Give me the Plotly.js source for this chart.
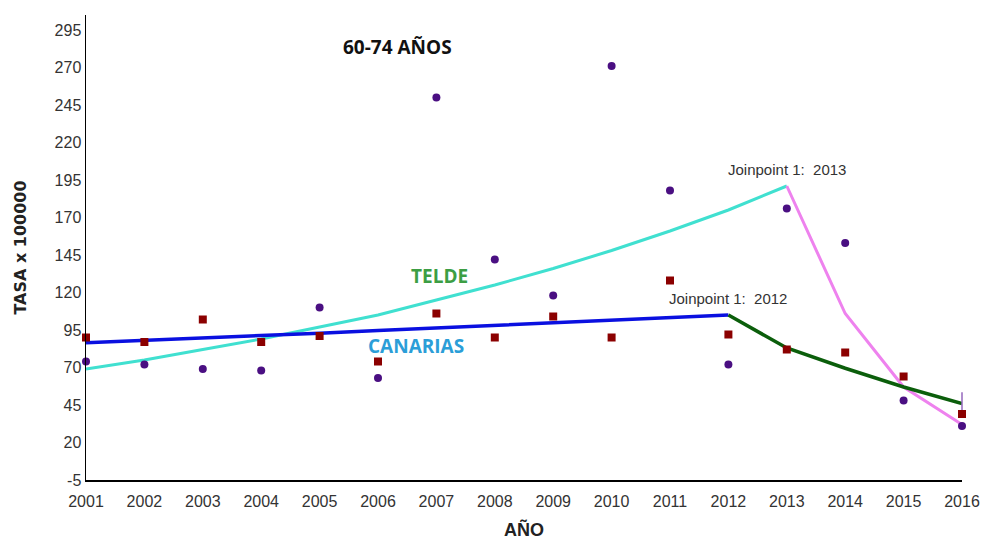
<!DOCTYPE html>
<html>
<head>
<meta charset="utf-8">
<script src="https://cdn.plot.ly/plotly-3.0.1.min.js"></script>
<style>html,body{margin:0;padding:0;background:#fff;}#chart{width:983px;height:541px;}</style>
</head>
<body>
<div id="chart"></div>
<script>
// Data
var years = [2001,2002,2003,2004,2005,2006,2007,2008,2009,2010,2011,2012,2013,2014,2015,2016];
var teldeObserved = [74,72,69,68,110,63,250,142,118,271,188,72,176,153,48,31];
var canariasObserved = [90,87,102,87,91,74,106,90,104,90,128,92,82,80,64,39];

var teldeSeg1Years = [2001,2002,2003,2004,2005,2006,2007,2008,2009,2010,2011,2012,2013];
var teldeSeg1 = [69,75,82,89,97,105,115,125,136,148,161,175,191];
var teldeSeg2Years = [2013,2014,2015,2016];
var teldeSeg2 = [191,106,57,32];

var canariasSeg1Years = [2001,2002,2003,2004,2005,2006,2007,2008,2009,2010,2011,2012];
var canariasSeg1 = [86.5,88,89.7,91.3,92.9,94.6,96.3,98,99.8,101.6,103.4,105];
var canariasSeg2Years = [2012,2013,2014,2015,2016];
var canariasSeg2 = [105,83,69.5,57,46];

var yTicks = [-5,20,45,70,95,120,145,170,195,220,245,270,295];

var traces = [
  {x: teldeSeg1Years, y: teldeSeg1, mode: 'lines', line: {color: '#40E0D0', width: 3}, cliponaxis: false},
  {x: teldeSeg2Years, y: teldeSeg2, mode: 'lines', line: {color: '#EE82EE', width: 3}, cliponaxis: false},
  {x: canariasSeg1Years, y: canariasSeg1, mode: 'lines', line: {color: '#0a10e0', width: 3.5}, cliponaxis: false},
  {x: canariasSeg2Years, y: canariasSeg2, mode: 'lines', line: {color: '#0b5e0b', width: 3.5}, cliponaxis: false},
  {x: [canariasSeg2Years[canariasSeg2Years.length-1]], y: [canariasSeg2[canariasSeg2.length-1]], mode: 'markers',
   marker: {symbol: 'line-ns-open', size: 16, line: {color: '#111', width: 1.5}}, cliponaxis: false},
  {x: years, y: teldeObserved, mode: 'markers', marker: {symbol: 'circle', size: 8, color: '#4a0f82'}, cliponaxis: false},
  {x: years, y: canariasObserved, mode: 'markers', marker: {symbol: 'square', size: 8, color: '#8b0000'}, cliponaxis: false}
];

var layout = {
  width: 983, height: 541,
  margin: {l: 86, r: 21, t: 15, b: 61},
  paper_bgcolor: '#fff', plot_bgcolor: '#fff',
  showlegend: false,
  font: {family: 'Liberation Sans, Arial, sans-serif', color: '#333'},
  xaxis: {
    range: [2001, 2016], tickvals: years, ticktext: years.map(String),
    showgrid: false, zeroline: false, showline: true, linecolor: '#000', linewidth: 1.5,
    ticks: '', tickfont: {size: 16, color: '#333'}, ticklabelstandoff: 6,
    title: {text: '<b>AÑO</b>', font: {size: 18, color: '#222', family: 'Liberation Sans, Arial, sans-serif'}, standoff: 14}
  },
  yaxis: {
    range: [-5, 305], tickvals: yTicks, ticktext: yTicks.map(String),
    showgrid: false, zeroline: false, showline: true, linecolor: '#000', linewidth: 1.5,
    ticks: '', tickfont: {size: 16, color: '#333'},
    title: {text: '<b>TASA x 100000</b>', font: {size: 16, color: '#222', family: 'DejaVu Sans, sans-serif'}, standoff: 24}
  },
  annotations: [
    {x: 2006.34, y: 284, xref: 'x', yref: 'y', text: '<b>60-74 AÑOS</b>', showarrow: false,
     font: {family: 'Open Sans, sans-serif', size: 19, color: '#111'}},
    {x: 2007.06, y: 131, xref: 'x', yref: 'y', text: '<b>TELDE</b>', showarrow: false,
     font: {family: 'Open Sans, sans-serif', size: 19, color: '#3c9e44'}},
    {x: 2006.65, y: 84.3, xref: 'x', yref: 'y', text: '<b>CANARIAS</b>', showarrow: false,
     font: {family: 'Open Sans, sans-serif', size: 19, color: '#2b9ed8'}},
    {x: 2013.0, y: 201.7, xref: 'x', yref: 'y', text: 'Joinpoint 1:  2013', showarrow: false,
     font: {family: 'Liberation Sans, Arial, sans-serif', size: 15, color: '#333'}},
    {x: 2012.0, y: 116.3, xref: 'x', yref: 'y', text: 'Joinpoint 1:  2012', showarrow: false,
     font: {family: 'Liberation Sans, Arial, sans-serif', size: 15, color: '#333'}}
  ]
};

Plotly.newPlot('chart', traces, layout, {displayModeBar: false, staticPlot: true});
</script>
</body>
</html>
